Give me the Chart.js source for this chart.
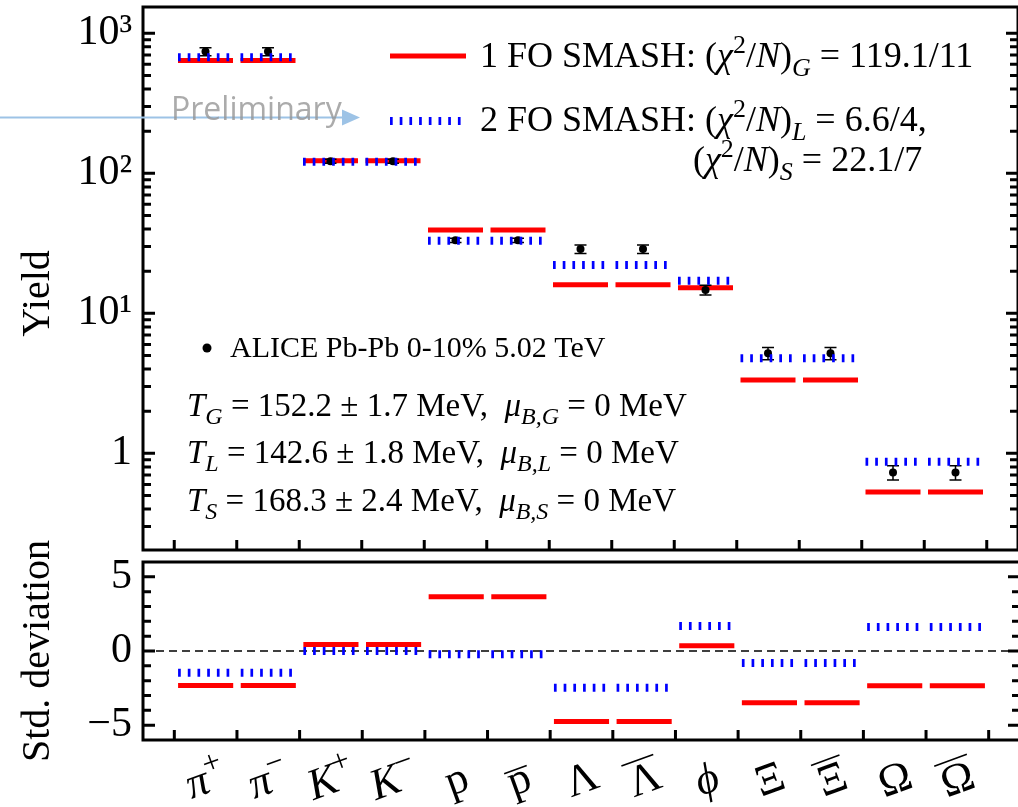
<!DOCTYPE html>
<html>
<head>
<meta charset="utf-8">
<script src="https://cdn.jsdelivr.net/npm/chart.js@4.4.1/dist/chart.umd.min.js"></script>
<style>
  html, body { margin: 0; padding: 0; background: #fff; overflow: hidden; }
  #yieldChart { position: absolute; left: 0; top: 0; }
  #devChart { position: absolute; left: 0; top: 500px; }
</style>
</head>
<body>
<canvas id="yieldChart" width="1022" height="556"></canvas>
<canvas id="devChart" width="1022" height="307"></canvas>
<script>
// --- data ---
const particles = ['π⁺', 'π⁻', 'K⁺', 'K⁻', 'p', 'p̅', 'Λ', 'Λ̅', 'ϕ', 'Ξ', 'Ξ̅', 'Ω', 'Ω̅'];
const aliceYield = [740, 740, 122, 122, 33.2, 33.2, 28.8, 28.8, 14.7, 5.18, 5.18, 0.73, 0.73];
const aliceErr   = [50, 50, 4, 4, 1.2, 1.2, 2.0, 2.0, 1.2, 0.52, 0.52, 0.085, 0.085];
const oneFoYield = [640, 640, 123, 123, 39.4, 39.4, 16.0, 16.0, 15.2, 3.34, 3.34, 0.529, 0.529];
const twoFoYield = [674, 674, 121, 121, 33.0, 33.0, 22.1, 22.1, 17.1, 4.77, 4.77, 0.871, 0.871];
const oneFoDev = [-2.32, -2.32, 0.43, 0.43, 3.65, 3.65, -4.75, -4.75, 0.36, -3.49, -3.49, -2.34, -2.34];
const twoFoDev = [-1.46, -1.46, 0.0, 0.0, -0.22, -0.22, -2.47, -2.47, 1.69, -0.81, -0.81, 1.62, 1.62];
const yieldTicks = [1, 10, 100, 1000];
const yieldTickLabels = ['1', '10¹', '10²', '10³'];
const devTicks = [-5, 0, 5];
const devTickLabels = ['−5', '0', '5'];

const SERIF = '"Liberation Serif", "Times New Roman", serif';
const RED = '#ff0000';
const BLUE = '#0000ff';
const HALF = 0.44;

// each model value becomes a short horizontal bar over its category
function segments(vals) {
    const pts = [];
    vals.forEach((v, i) => {
        pts.push({ x: i - HALF, y: v }, { x: i + HALF, y: v }, { x: i + 0.5, y: null });
    });
    return pts;
}

// --- rich text (sub/superscripts) ---
function runFont(kind, size) {
    const small = kind === 'sub' || kind === 'sup';
    const italic = kind === 'i' || kind === 'sub';
    return (italic ? 'italic ' : '') + Math.round(small ? size * 0.72 : size) + 'px ' + SERIF;
}
function richWidth(ctx, runs, size) {
    let w = 0;
    runs.forEach(([t, k]) => { ctx.font = runFont(k, size); w += ctx.measureText(t).width; });
    return w;
}
function fitSize(ctx, runs, width, size) {
    return Math.round(size * width / richWidth(ctx, runs, size));
}
function drawRich(ctx, runs, x, base, s) {
    let cx = x;
    runs.forEach(([t, k]) => {
        ctx.font = runFont(k, s);
        const dy = k === 'sub' ? s * 0.24 : (k === 'sup' ? -s * 0.4 : 0);
        ctx.fillText(t, cx, base + dy);
        cx += ctx.measureText(t).width;
    });
}

// drop the half-label margins Chart.js reserves so the plot box sits where the figure has it
function noPad(s) { s.paddingTop = 0; s.paddingBottom = 0; s.paddingLeft = 0; s.paddingRight = 0; }

// --- frame, inward ticks, zero line ---
function framePlugin(cfg) {
    return {
        id: 'frame',
        beforeDatasetsDraw(chart) {
            if (!cfg.zeroLine) return;
            const { ctx, chartArea: a, scales: { y } } = chart;
            const py = y.getPixelForValue(0);
            ctx.save();
            ctx.strokeStyle = '#000'; ctx.lineWidth = 1.5; ctx.setLineDash([8, 5]);
            ctx.beginPath(); ctx.moveTo(a.left, py); ctx.lineTo(a.right, py); ctx.stroke();
            ctx.restore();
        },
        afterDatasetsDraw(chart) {
            const { ctx, chartArea: a, scales: { x, y } } = chart;
            ctx.save();
            ctx.strokeStyle = '#000'; ctx.lineWidth = 3;
            ctx.beginPath();
            const tick = (v, len) => {
                const py = y.getPixelForValue(v);
                ctx.moveTo(a.left, py); ctx.lineTo(a.left + len, py);
                ctx.moveTo(a.right, py); ctx.lineTo(a.right - len, py);
            };
            cfg.yMinor.forEach(v => tick(v, 8));
            cfg.yMajor.forEach(v => tick(v, 12));
            for (let i = 0; i <= particles.length; i++) {
                const px = x.getPixelForValue(i - 0.5);
                ctx.moveTo(px, a.bottom); ctx.lineTo(px, a.bottom - 10);
            }
            ctx.stroke();
            ctx.strokeRect(a.left, a.top, a.right - a.left, a.bottom - a.top);
            ctx.restore();
        }
    };
}

const errorBars = {
    id: 'errorBars',
    afterDatasetDraw(chart, args) {
        if (chart.data.datasets[args.index].label !== 'ALICE') return;
        const { ctx, scales: { x, y } } = chart;
        ctx.save();
        ctx.strokeStyle = '#000'; ctx.lineWidth = 1.5;
        ctx.beginPath();
        aliceYield.forEach((v, i) => {
            const px = x.getPixelForValue(i);
            const hi = y.getPixelForValue(v + aliceErr[i]);
            const lo = y.getPixelForValue(v - aliceErr[i]);
            ctx.moveTo(px, hi); ctx.lineTo(px, lo);
            ctx.moveTo(px - 6, hi); ctx.lineTo(px + 6, hi);
            ctx.moveTo(px - 6, lo); ctx.lineTo(px + 6, lo);
        });
        ctx.stroke();
        ctx.restore();
    }
};

const annotations = {
    id: 'annotations',
    afterDraw(chart) {
        const ctx = chart.ctx;
        ctx.save();
        // legend
        ctx.lineWidth = 5; ctx.strokeStyle = RED;
        ctx.beginPath(); ctx.moveTo(390, 56); ctx.lineTo(466, 56); ctx.stroke();
        ctx.lineWidth = 8; ctx.strokeStyle = BLUE; ctx.setLineDash([2.7, 7]);
        ctx.beginPath(); ctx.moveTo(390, 121); ctx.lineTo(466, 121); ctx.stroke();
        ctx.setLineDash([]);

        ctx.fillStyle = '#000'; ctx.textAlign = 'left'; ctx.textBaseline = 'alphabetic';
        const chi = [['(', 'r'], ['χ', 'i'], ['2', 'sup'], ['/', 'r'], ['N', 'i'], [')', 'r']];
        const leg1 = [['1 FO SMASH: ', 'r'], ...chi, ['G', 'sub'], [' = 119.1/11', 'r']];
        const ls = fitSize(ctx, leg1, 496, 30);
        drawRich(ctx, leg1, 480, 67, ls);
        drawRich(ctx, [['2 FO SMASH: ', 'r'], ...chi, ['L', 'sub'], [' = 6.6/4,', 'r']], 480, 131, ls);
        drawRich(ctx, [...chi, ['S', 'sub'], [' = 22.1/7', 'r']], 693, 171, ls);

        // data marker label
        ctx.beginPath(); ctx.arc(207, 348, 4.5, 0, Math.PI * 2); ctx.fill();
        const alice = [['ALICE Pb-Pb 0-10% 5.02 TeV', 'r']];
        drawRich(ctx, alice, 230, 357, fitSize(ctx, alice, 377, 30));

        const tG = [['T', 'i'], ['G', 'sub'], [' = 152.2 ± 1.7 MeV,  ', 'r'], ['μ', 'i'], ['B,G', 'sub'], [' = 0 MeV', 'r']];
        const ts = fitSize(ctx, tG, 506, 30);
        drawRich(ctx, tG, 187, 416, ts);
        drawRich(ctx, [['T', 'i'], ['L', 'sub'], [' = 142.6 ± 1.8 MeV,  ', 'r'], ['μ', 'i'], ['B,L', 'sub'], [' = 0 MeV', 'r']], 187, 463, ts);
        drawRich(ctx, [['T', 'i'], ['S', 'sub'], [' = 168.3 ± 2.4 MeV,  ', 'r'], ['μ', 'i'], ['B,S', 'sub'], [' = 0 MeV', 'r']], 187, 511, ts);

        // "Preliminary" overlay with arrow
        ctx.strokeStyle = '#9dc3e6'; ctx.fillStyle = '#9dc3e6'; ctx.lineWidth = 2;
        ctx.beginPath(); ctx.moveTo(0, 117.5); ctx.lineTo(344, 117.5); ctx.stroke();
        ctx.beginPath(); ctx.moveTo(360, 117.5); ctx.lineTo(342, 109.5); ctx.lineTo(342, 125.5); ctx.closePath(); ctx.fill();
        ctx.fillStyle = 'rgba(150,150,150,0.8)';
        ctx.font = '32px "Open Sans", sans-serif';
        const pw = ctx.measureText('Preliminary').width;
        ctx.font = Math.round(32 * 170 / pw) + 'px "Open Sans", sans-serif';
        ctx.fillText('Preliminary', 171, 120);
        ctx.restore();
    }
};

// category names under the lower panel, tilted like the figure
const particleLabels = {
    id: 'particleLabels',
    afterDraw(chart) {
        const { ctx, chartArea: a, scales: { x } } = chart;
        const size = 44;
        ctx.save();
        ctx.fillStyle = '#000'; ctx.strokeStyle = '#000'; ctx.lineWidth = 1.6;
        ctx.textAlign = 'left'; ctx.textBaseline = 'alphabetic';
        particles.forEach((name, i) => {
            const base = name[0];
            const sup = name.includes('⁺') ? '+' : (name.includes('⁻') ? '−' : '');
            const bar = name.includes('\u0305');
            const italic = 'πKϕ'.includes(base);
            const runs = [[base, italic ? 'i' : 'r']];
            if (sup) runs.push([sup, 'sup']);
            const w = richWidth(ctx, runs, size);
            ctx.font = runFont(runs[0][1], size);
            const bw = ctx.measureText(base).width;
            ctx.save();
            ctx.translate(x.getPixelForValue(i), a.bottom + 39);
            ctx.rotate(-20 * Math.PI / 180);
            drawRich(ctx, runs, -w / 2, 14, size);
            if (bar) {
                const top = base === 'p' ? -10 : -20;
                ctx.beginPath(); ctx.moveTo(-w / 2 - 1, top); ctx.lineTo(-w / 2 + bw + 1, top); ctx.stroke();
            }
            ctx.restore();
        });
        ctx.restore();
    }
};

const yMinorTop = [];
[0.1, 1, 10, 100].forEach(d => { for (let k = 2; k <= 9; k++) if (d * k > 0.204) yMinorTop.push(d * k); });
const yMinorDev = [-4, -3, -2, -1, 1, 2, 3, 4];

const yieldChart = new Chart(document.getElementById('yieldChart').getContext('2d'), {
    type: 'line',
    data: {
        datasets: [
            { label: '2 FO SMASH', data: segments(twoFoYield), borderColor: BLUE, borderWidth: 8, borderDash: [2.7, 7], pointRadius: 0, order: 1 },
            { label: 'ALICE', data: aliceYield.map((v, i) => ({ x: i, y: v })), showLine: false, pointRadius: 4, pointBackgroundColor: '#000', pointBorderWidth: 0, order: 2 },
            { label: '1 FO SMASH', data: segments(oneFoYield), borderColor: RED, borderWidth: 5, pointRadius: 0, order: 3 }
        ]
    },
    options: {
        responsive: false, animation: false,
        layout: { padding: { top: 7, right: 2, bottom: 6, left: 0 } },
        plugins: { legend: { display: false }, tooltip: { enabled: false } },
        scales: {
            x: { type: 'linear', min: -1, max: 13, display: false },
            y: {
                type: 'logarithmic', min: 0.204, max: 1541,
                afterFit(s) { s.width = 143; noPad(s); },
                afterBuildTicks(s) { s.ticks = yieldTicks.map(v => ({ value: v })); },
                ticks: { callback: v => yieldTickLabels[yieldTicks.indexOf(v)], color: '#000', padding: 11, font: { family: SERIF, size: 42 } },
                grid: { display: false, drawTicks: false }, border: { display: false },
                title: { display: true, text: 'Yield   ', color: '#000', padding: { top: 14, bottom: 0 }, font: { family: SERIF, size: 40 } }
            }
        }
    },
    plugins: [framePlugin({ yMajor: yieldTicks, yMinor: yMinorTop }), errorBars, annotations]
});

const devChart = new Chart(document.getElementById('devChart').getContext('2d'), {
    type: 'line',
    data: {
        datasets: [
            { label: '2 FO SMASH', data: segments(twoFoDev), borderColor: BLUE, borderWidth: 8, borderDash: [2.7, 7], pointRadius: 0, order: 1 },
            { label: '1 FO SMASH', data: segments(oneFoDev), borderColor: RED, borderWidth: 5, pointRadius: 0, order: 3 }
        ]
    },
    options: {
        responsive: false, animation: false,
        layout: { padding: { top: 62, right: 2, bottom: 67, left: 0 } },
        plugins: { legend: { display: false }, tooltip: { enabled: false } },
        scales: {
            x: { type: 'linear', min: -1, max: 13, display: false },
            y: {
                type: 'linear', min: -6, max: 6,
                afterFit(s) { s.width = 143; noPad(s); },
                afterBuildTicks(s) { s.ticks = devTicks.map(v => ({ value: v })); },
                ticks: { callback: v => devTickLabels[devTicks.indexOf(v)], color: '#000', padding: 11, font: { family: SERIF, size: 42 } },
                grid: { display: false, drawTicks: false }, border: { display: false },
                title: { display: true, text: 'Std. deviation', color: '#000', padding: { top: 14, bottom: 0 }, font: { family: SERIF, size: 40 } }
            }
        }
    },
    plugins: [framePlugin({ yMajor: devTicks, yMinor: yMinorDev, zeroLine: true }), particleLabels]
});
</script>
</body>
</html>
